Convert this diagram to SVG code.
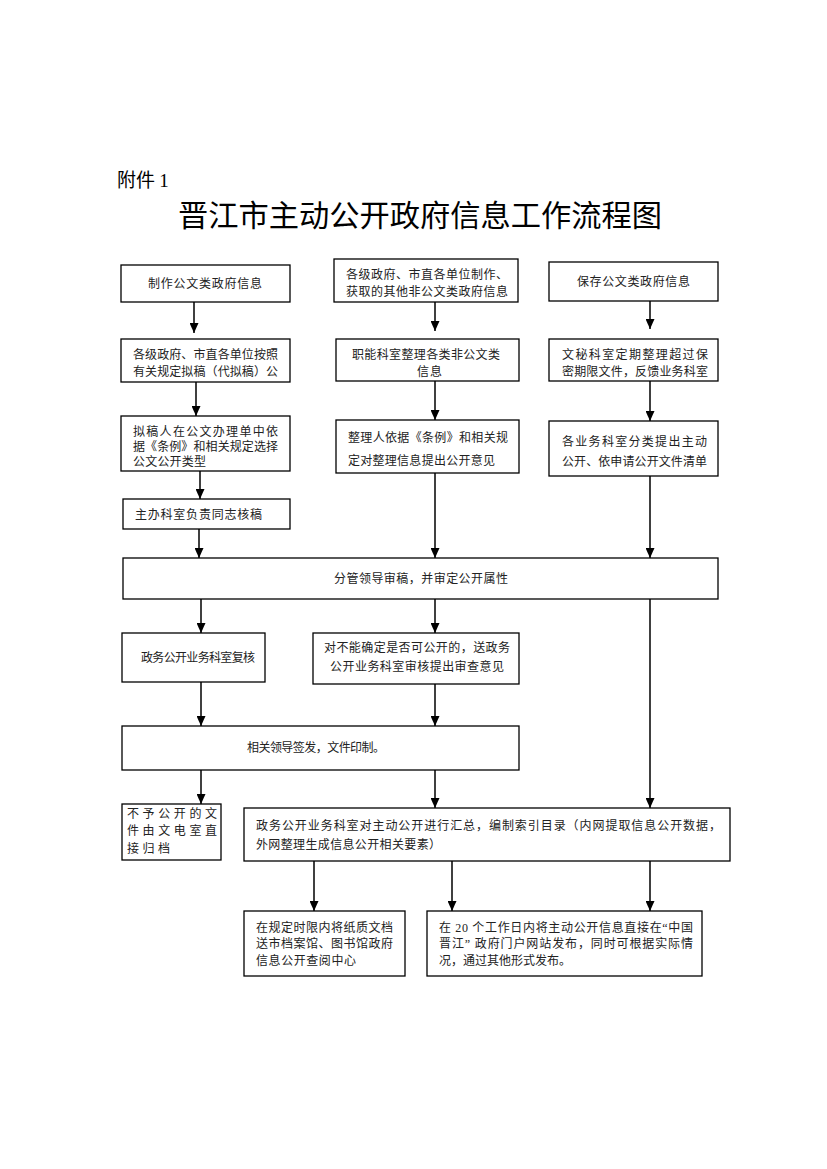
<svg xmlns="http://www.w3.org/2000/svg" width="827" height="1169" viewBox="0 0 827 1169">
<style>
.bx{fill:#fff;stroke:#000;stroke-width:1.3}
.t{font-family:"Liberation Serif","Noto Sans CJK SC",serif;font-size:12px;fill:#222}
.ar{stroke:#000;stroke-width:1.5;fill:none;marker-end:url(#ah)}
.h{font-family:"Noto Sans CJK SC",sans-serif;fill:#000}
</style>
<defs>
<marker id="ah" markerUnits="userSpaceOnUse" markerWidth="10" markerHeight="9" refX="10" refY="4.5" orient="auto"><path d="M0,0 L10,4.5 L0,9 z" fill="#000"/></marker>
</defs>
<rect width="827" height="1169" fill="#fff"/>
<text class="h" x="117" y="187" font-size="19">附件 <tspan font-family="Liberation Serif">1</tspan></text>
<text class="h" x="178" y="226" font-size="30" textLength="484" lengthAdjust="spacingAndGlyphs">晋江市主动公开政府信息工作流程图</text>

<g id="A1"><rect class="bx" x="121" y="265" width="169" height="37"/><text class="t" x="148" y="288" textLength="114">制作公文类政府信息</text></g>
<g id="B1"><rect class="bx" x="334" y="259" width="184" height="43"/><text class="t" x="346" y="279" textLength="162">各级政府、市直各单位制作、</text><text class="t" x="346" y="296" textLength="162">获取的其他非公文类政府信息</text></g>
<g id="C1"><rect class="bx" x="549" y="262" width="169" height="39"/><text class="t" x="577" y="286" textLength="113">保存公文类政府信息</text></g>

<g id="A2"><rect class="bx" x="121" y="339" width="169" height="43"/><text class="t" x="133" y="359" textLength="145">各级政府、市直各单位按照</text><text class="t" x="133" y="376" textLength="145">有关规定拟稿（代拟稿）公</text></g>
<g id="B2"><rect class="bx" x="336" y="339" width="183" height="42"/><text class="t" x="352" y="359" textLength="148">职能科室整理各类非公文类</text><text class="t" x="417" y="376" textLength="25">信息</text></g>
<g id="C2"><rect class="bx" x="549" y="339" width="169" height="42"/><text class="t" x="562" y="359" textLength="146">文秘科室定期整理超过保</text><text class="t" x="562" y="376" textLength="146">密期限文件，反馈业务科室</text></g>

<g id="A3"><rect class="bx" x="121" y="416" width="169" height="55"/><text class="t" x="133" y="436" textLength="145">拟稿人在公文办理单中依</text><text class="t" x="133" y="451" textLength="145">据《条例》和相关规定选择</text><text class="t" x="133" y="466" textLength="73">公文公开类型</text></g>
<g id="B3"><rect class="bx" x="336" y="420" width="183" height="53"/><text class="t" x="348" y="442" textLength="160">整理人依据《条例》和相关规</text><text class="t" x="348" y="465" textLength="147">定对整理信息提出公开意见</text></g>
<g id="C3"><rect class="bx" x="549" y="421" width="169" height="55"/><text class="t" x="562" y="446" textLength="145">各业务科室分类提出主动</text><text class="t" x="562" y="466" textLength="145">公开、依申请公开文件清单</text></g>
<g id="A4"><rect class="bx" x="123" y="499" width="167" height="30"/><text class="t" x="135" y="519" textLength="127">主办科室负责同志核稿</text></g>

<g id="D"><rect class="bx" x="123" y="558" width="595" height="41"/><text class="t" x="334" y="583" textLength="174">分管领导审稿，并审定公开属性</text></g>

<g id="E1"><rect class="bx" x="122" y="633" width="143" height="49"/><text class="t" x="141" y="662" textLength="114">政务公开业务科室复核</text></g>
<g id="E2"><rect class="bx" x="313" y="633" width="206" height="51"/><text class="t" x="324" y="652" textLength="186">对不能确定是否可公开的，送政务</text><text class="t" x="330" y="671" textLength="174">公开业务科室审核提出审查意见</text></g>

<g id="F"><rect class="bx" x="122" y="726" width="397" height="44"/><text class="t" x="247" y="752" textLength="138">相关领导签发，文件印制。</text></g>

<g id="G1"><rect class="bx" x="122" y="804" width="99" height="56"/><text class="t" x="127" y="818" textLength="90">不予公开的文</text><text class="t" x="127" y="835" textLength="90">件由文电室直</text><text class="t" x="127" y="853" textLength="43">接归档</text></g>
<g id="G2"><rect class="bx" x="244" y="808" width="486" height="53"/><text class="t" x="256" y="830" textLength="465">政务公开业务科室对主动公开进行汇总，编制索引目录（内网提取信息公开数据，</text><text class="t" x="256" y="849" textLength="185">外网整理生成信息公开相关要素）</text></g>

<g id="H1"><rect class="bx" x="244" y="911" width="161" height="65"/><text class="t" x="256" y="932" textLength="137">在规定时限内将纸质文档</text><text class="t" x="256" y="948" textLength="137">送市档案馆、图书馆政府</text><text class="t" x="256" y="965" textLength="100">信息公开查阅中心</text></g>
<g id="H2"><rect class="bx" x="427" y="911" width="275" height="65"/><text class="t" x="439" y="932" textLength="254">在 20 个工作日内将主动公开信息直接在“中国</text><text class="t" x="439" y="948" textLength="254">晋江” 政府门户网站发布，同时可根据实际情</text><text class="t" x="439" y="965" textLength="132">况，通过其他形式发布。</text></g>

<g id="connectors">
<line class="ar" x1="194" y1="302" x2="194" y2="333"/>
<line class="ar" x1="435" y1="302" x2="435" y2="331"/>
<line class="ar" x1="650" y1="301" x2="650" y2="329"/>
<line class="ar" x1="196" y1="382" x2="196" y2="416"/>
<line class="ar" x1="435" y1="381" x2="435" y2="420"/>
<line class="ar" x1="650" y1="381" x2="650" y2="421"/>
<line class="ar" x1="200" y1="471" x2="200" y2="499"/>
<line class="ar" x1="199" y1="529" x2="199" y2="558"/>
<line class="ar" x1="435" y1="473" x2="435" y2="558"/>
<line class="ar" x1="650" y1="476" x2="650" y2="558"/>
<line class="ar" x1="201" y1="599" x2="201" y2="633"/>
<line class="ar" x1="435" y1="599" x2="435" y2="633"/>
<line class="ar" x1="650" y1="599" x2="650" y2="808"/>
<line class="ar" x1="201" y1="682" x2="201" y2="726"/>
<line class="ar" x1="435" y1="684" x2="435" y2="726"/>
<line class="ar" x1="201" y1="770" x2="201" y2="804"/>
<line class="ar" x1="435" y1="770" x2="435" y2="808"/>
<line class="ar" x1="314" y1="861" x2="314" y2="911"/>
<line class="ar" x1="452" y1="861" x2="452" y2="911"/>
<line class="ar" x1="650" y1="861" x2="650" y2="911"/>
</g>
</svg>
